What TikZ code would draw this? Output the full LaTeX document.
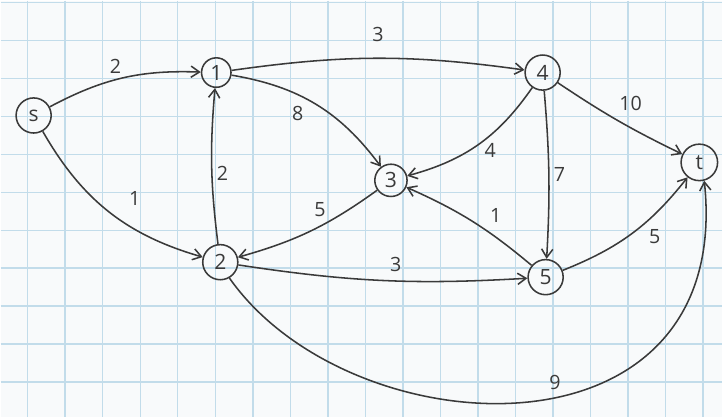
\documentclass[tikz,border=0pt]{standalone}
\usepackage{fontspec}
\setmainfont{Open Sans}
\usepackage{xcolor}
\usepackage{tikz}
\usetikzlibrary{
    arrows.meta,
    positioning
}
\definecolor{paper}{HTML}{F8FAFB}
\definecolor{gridblue}{HTML}{C2DCEA}
\definecolor{pencil}{HTML}{3A3A3A}

\begin{document}
\begin{tikzpicture}[
        x=0.025cm, y=-0.025cm,
        vertex/.style={draw=pencil, line width=1.1pt, circle, minimum size=24pt, inner sep=0pt, text=pencil, font=\fontsize{15}{18}\selectfont},
        wedge/.style={draw=pencil, line width=1.1pt, -{Straight Barb[length=6pt, width=8pt]}},
        weight/.style={text=pencil, font=\fontsize{14}{17}\selectfont, inner sep=2pt},
        gridline/.style={draw=gridblue, line width=1pt}
      ]

      % graph paper
      \fill[paper] (0,0) rectangle (723,417);
      \foreach \gx in {0,...,18} {
        \draw[gridline] (27+37.6*\gx,0) -- (27+37.6*\gx,417);
      }
      \foreach \gy in {0,...,10} {
        \draw[gridline] (0,2+38*\gy) -- (723,2+38*\gy);
      }
      \useasboundingbox (0,0) rectangle (723,417);

      % vertices
      \node[vertex, minimum size=25pt] (s) at (33,115) {s};
      \node[vertex, minimum size=21pt] (v1) at (216,72) {1};
      \node[vertex, minimum size=25pt] (v4) at (543,72) {4};
      \node[vertex, minimum size=23pt] (v3) at (391,180) {3};
      \node[vertex, minimum size=26pt] (t) at (700,162) {t};
      \node[vertex, minimum size=25pt] (v2) at (220,262) {2};
      \node[vertex, minimum size=25pt] (v5) at (546,277) {5};

      % edges
      \draw[wedge] (s) to[bend left=15] node[weight, pos=0.45, above=2pt] {2} (v1);
      \draw[wedge] (s) to[bend right=22] node[weight, pos=0.55, above right=9pt] {1} (v2);
      \draw[wedge] (v1) to[bend left=8] node[weight, pos=0.5, above=9pt] {3} (v4);
      \draw[wedge] (v1) to[bend left=22] node[weight, pos=0.45, below left=2pt] {8} (v3);
      \draw[wedge] (v2) to[bend left=6] node[weight, pos=0.45, right=1pt] {2} (v1);
      \draw[wedge] (v3) to[bend left=10] node[weight, pos=0.35, above left=1pt] {5} (v2);
      \draw[wedge] (v2) to[bend right=6] node[weight, pos=0.55, above=4pt] {3} (v5);
      \draw[wedge] (v4) to[bend left=20] node[weight, pos=0.4, below=3pt] {4} (v3);
      \draw[wedge] (v4) to[bend left=4] node[weight, pos=0.5, right=1pt] {7} (v5);
      \draw[wedge] (v4) to[bend right=4] node[weight, pos=0.45, above right=3pt] {10} (t);
      \draw[wedge] (v5) to[bend right=8] node[weight, pos=0.4, above right=3pt] {1} (v3);
      \draw[wedge] (v5) to[bend right=15] node[weight, pos=0.6, below right=2pt] {5} (t);
      \draw[wedge] (v2.-60) .. controls (350,450) and (735,470) .. node[weight, pos=0.55, above=3pt] {9} (t.-75);
    \end{tikzpicture}
\end{document}
